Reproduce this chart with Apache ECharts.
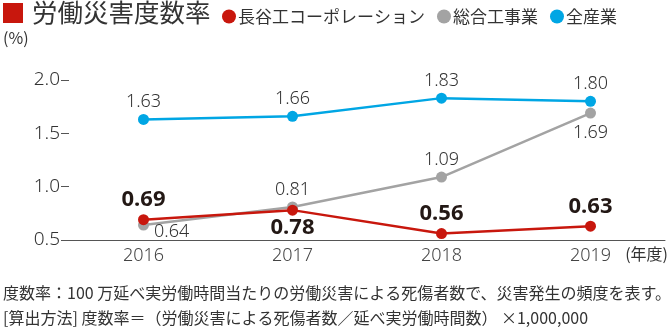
<!DOCTYPE html>
<html>
<head>
<meta charset="utf-8">
<script src="https://cdn.jsdelivr.net/npm/echarts@6/dist/echarts.min.js"></script>
<style>
  html, body { margin: 0; padding: 0; background: #fff; }
  #chart { width: 669px; height: 333px; }
</style>
</head>
<body>
<div id="chart"></div>
<script>
// 労働災害度数率（年度別）
const years = ['2016', '2017', '2018', '2019'];
const haseko = [0.69, 0.78, 0.56, 0.63];
const construction = [0.64, 0.81, 1.09, 1.69];
const allIndustry = [1.63, 1.66, 1.83, 1.80];
const yTicks = [0.5, 1.0, 1.5, 2.0];

// label placement per point (style only)
const hasekoPos = ['top', 'bottom', 'top', 'top'];
const constructionPos = ['right', 'top', 'top', 'bottom'];
const allIndustryPos = ['top', 'top', 'top', 'top'];

const RED = '#c8170d';
const GRAY = '#a3a3a3';
const BLUE = '#00a6e4';
const TEXT = '#333333';
const JP = '"Noto Sans CJK JP", "Noto Sans", sans-serif';
const NUM = '"Noto Sans", "Noto Sans CJK JP", sans-serif';

function points(values, positions, labelStyle) {
  return values.map((v, i) => {
    const pos = positions[i];
    const label = Object.assign({ position: pos }, labelStyle[pos] || {});
    return { value: v, label: label };
  });
}

const plainLabel = {
  top: { distance: 3 },
  bottom: { distance: 5 },
  right: { distance: 5, offset: [0, 7] }
};
const boldLabel = {
  top: { distance: 3 },
  bottom: { distance: 1 }
};

const chart = echarts.init(document.getElementById('chart'), null, { renderer: 'canvas' });

chart.setOption({
  animation: false,
  backgroundColor: '#ffffff',
  title: [
    { text: '労働災害度数率', left: 32, top: 0, padding: 0,
      textStyle: { fontFamily: JP, fontSize: 25.5, fontWeight: 'normal', color: TEXT } },
    { text: '(%)', left: 3, top: 30, padding: 0,
      textStyle: { fontFamily: JP, fontSize: 16, fontWeight: 'normal', color: TEXT } },
    { text: '(年度)', right: 1, top: 246, padding: 0,
      textStyle: { fontFamily: JP, fontSize: 16, fontWeight: 'normal', color: TEXT } },
    { text: '度数率：100 万延べ実労働時間当たりの労働災害による死傷者数で、災害発生の頻度を表す。',
      left: 3, top: 285, padding: 0,
      textStyle: { fontFamily: JP, fontSize: 16, fontWeight: 'normal', color: TEXT } },
    { text: '[算出方法] 度数率＝（労働災害による死傷者数／延べ実労働時間数） ×1,000,000',
      left: 3, top: 310, padding: 0,
      textStyle: { fontFamily: JP, fontSize: 16, fontWeight: 'normal', color: TEXT } }
  ],
  graphic: [
    { type: 'rect', left: 3, top: 3, shape: { width: 20, height: 20 }, style: { fill: RED } }
  ],
  legend: {
    left: 222, top: 8, padding: 0,
    icon: 'circle', itemWidth: 14, itemHeight: 14, itemGap: 12,
    textStyle: { fontFamily: JP, fontSize: 17, color: TEXT, padding: [0, 0, 0, -3] },
    data: ['長谷工コーポレーション', '総合工事業', '全産業']
  },
  grid: { left: 69, right: 4, top: 80, bottom: 93, containLabel: false },
  xAxis: {
    type: 'category',
    data: years,
    boundaryGap: true,
    axisLine: { lineStyle: { color: '#555555', width: 1 } },
    axisTick: { show: false },
    axisLabel: { fontFamily: NUM, fontSize: 18, fontWeight: 300, color: '#444444', margin: 7 }
  },
  yAxis: {
    type: 'value',
    min: yTicks[0],
    max: yTicks[yTicks.length - 1],
    interval: 0.5,
    axisLine: { show: false },
    axisTick: { show: true, length: 8, lineStyle: { color: '#555555', width: 1 } },
    splitLine: { show: false },
    axisLabel: { fontFamily: NUM, fontSize: 19, fontWeight: 300, color: TEXT, margin: 9,
      formatter: v => v.toFixed(1) }
  },
  series: [
    {
      name: '全産業', type: 'line', color: BLUE,
      data: points(allIndustry, allIndustryPos, plainLabel),
      symbol: 'circle', symbolSize: 11,
      lineStyle: { width: 2.5, color: BLUE },
      itemStyle: { color: BLUE },
      label: { show: true, fontFamily: NUM, fontSize: 18, fontWeight: 300, color: TEXT,
        formatter: p => p.value.toFixed(2) },
      z: 2
    },
    {
      name: '総合工事業', type: 'line', color: GRAY,
      data: points(construction, constructionPos, plainLabel),
      symbol: 'circle', symbolSize: 11,
      lineStyle: { width: 2.5, color: GRAY },
      itemStyle: { color: GRAY },
      label: { show: true, fontFamily: NUM, fontSize: 18, fontWeight: 300, color: TEXT,
        formatter: p => p.value.toFixed(2) },
      z: 3
    },
    {
      name: '長谷工コーポレーション', type: 'line', color: RED,
      data: points(haseko, hasekoPos, boldLabel),
      symbol: 'circle', symbolSize: 11,
      lineStyle: { width: 2.5, color: RED },
      itemStyle: { color: RED },
      label: { show: true, fontFamily: NUM, fontSize: 22, fontWeight: 'bold', color: '#231815',
        formatter: p => p.value.toFixed(2) },
      z: 4
    }
  ]
});
</script>
</body>
</html>
